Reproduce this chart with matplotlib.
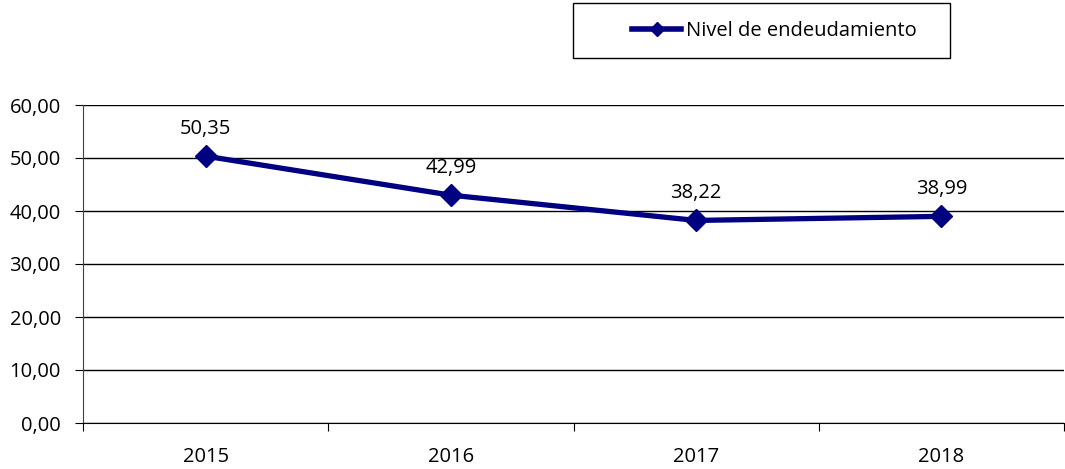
import matplotlib
matplotlib.use("Agg")
import matplotlib.pyplot as plt
from matplotlib.ticker import FuncFormatter
from matplotlib.lines import Line2D
from matplotlib.patches import Rectangle

years = ["2015", "2016", "2017", "2018"]
nivel = [50.35, 42.99, 38.22, 38.99]
yticks = [0, 10, 20, 30, 40, 50, 60]

plt.rcParams['font.family'] = ['Open Sans', 'DejaVu Sans']
FS = 14.5
NAVY = "#000080"

fig = plt.figure(figsize=(10.65, 4.69), dpi=100)
ax = fig.add_axes([83 / 1065, 1 - 423 / 469, 1 - 84 / 1065, (423 - 105) / 469])

x = [i + 0.5 for i in range(len(years))]
ax.plot(x, nivel, color=NAVY, lw=3.8, marker="D", markersize=11, zorder=3)
for xi, v in zip(x, nivel):
    ax.annotate(f"{v:.2f}".replace(".", ","), (xi, v), xytext=(0, 19.5),
                textcoords="offset points", ha="center", va="center", fontsize=FS)

ax.set_xlim(0, len(years))
ax.set_ylim(0, 60)
ax.set_yticks(yticks)
ax.yaxis.set_major_formatter(FuncFormatter(lambda v, p: f"{v:.2f}".replace(".", ",")))
ax.grid(axis="y", color="black", lw=1)
ax.set_axisbelow(True)

# category boundaries as ticks, labels centered between them
ax.set_xticks(range(len(years) + 1))
ax.set_xticklabels([])
ax.set_xticks(x, minor=True)
ax.set_xticklabels(years, minor=True)
ax.tick_params(axis="x", which="minor", length=0, labelsize=FS, pad=17)
ax.tick_params(axis="x", which="major", length=6, color="black")
ax.tick_params(axis="y", length=6, labelsize=FS, pad=10)

for s in ["top", "right"]:
    ax.spines[s].set_visible(False)
ax.spines["left"].set_color("#404040")
ax.spines["bottom"].set_color("black")

# legend
proxy = Line2D([], [], color=NAVY, lw=4, marker="D", markersize=7)
fig.legend(handles=[proxy], labels=["Nivel de endeudamiento"], loc="center left",
           bbox_to_anchor=(632 / 1065, 1 - 31 / 469), fontsize=FS, frameon=False,
           handlelength=2.45, handletextpad=0.25, borderpad=0, borderaxespad=0)
fig.add_artist(Rectangle((573 / 1065, 1 - 58 / 469), 377 / 1065, 55 / 469,
                         transform=fig.transFigure, fill=False, lw=1, ec="black"))

fig.savefig("out.png", dpi=100)
